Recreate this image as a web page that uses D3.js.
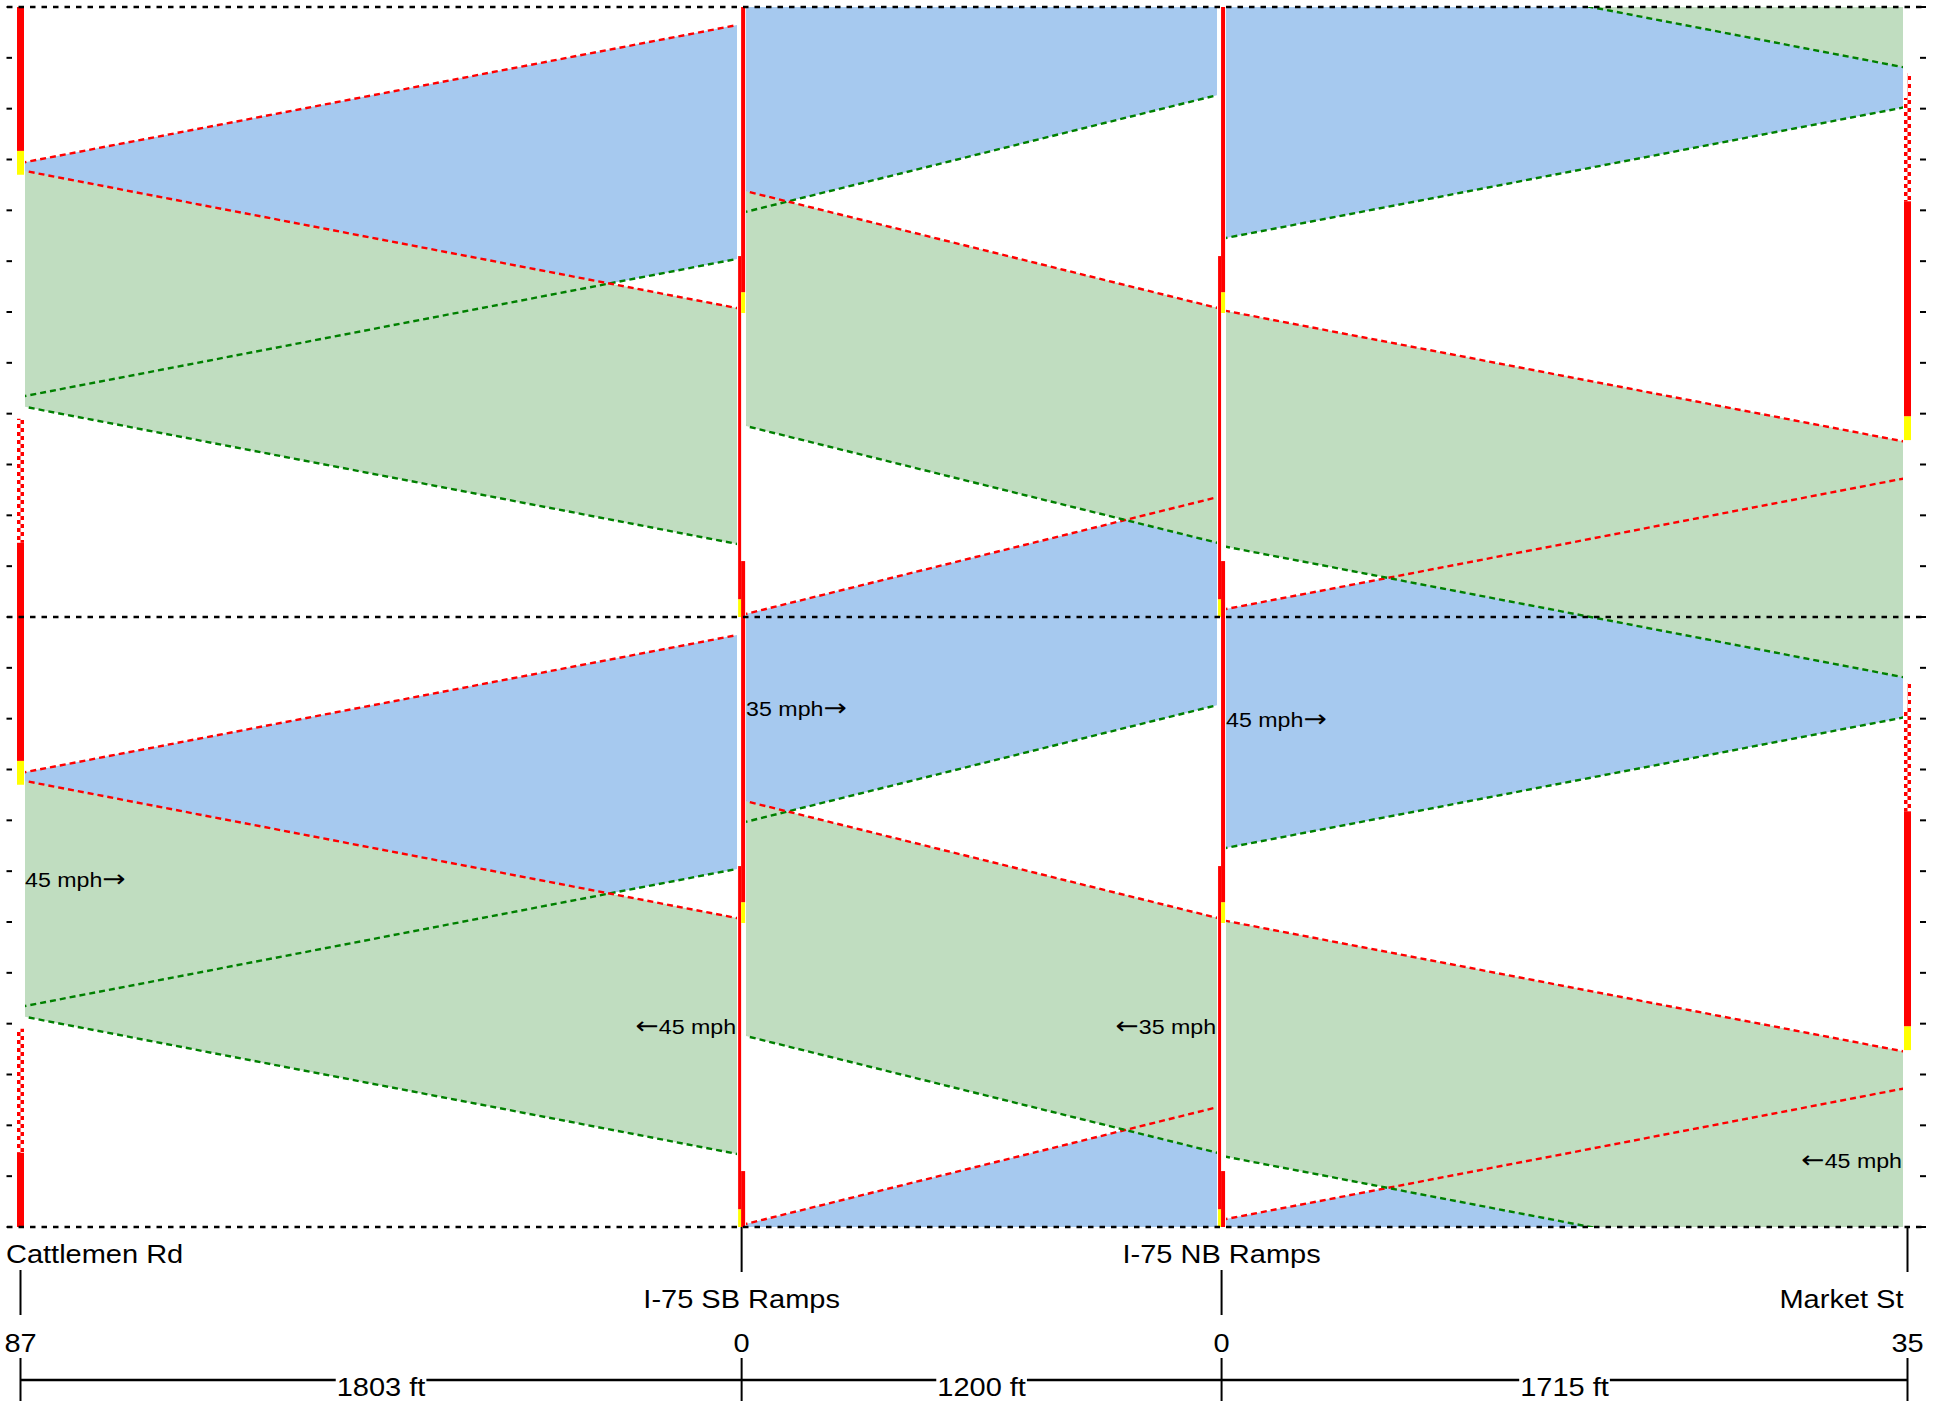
<!DOCTYPE html>
<html><head><meta charset="utf-8">
<script src="https://cdn.jsdelivr.net/npm/d3@7"></script>
<style>
body{margin:0;background:#fff}
text{font-family:"Liberation Sans",Arial,Helvetica,sans-serif;fill:#000}
tspan.arr{font-family:"DejaVu Sans",sans-serif}
</style>
</head><body>
<svg id="chart" width="1952" height="1401"></svg>
<script>
// ---------------- DATA ----------------
const intersectionNames = ["Cattlemen Rd", "I-75 SB Ramps", "I-75 NB Ramps", "Market St"];
const intersectionOffsets = [87, 0, 0, 35];
const linkLengths = [1803, 1200, 1715];          // ft
const ebSpeeds = [45, 35, 45];                   // mph, eastbound per link
const wbSpeeds = [45, 35, 45];                   // mph, westbound per link
const cycleLength = 120;                         // s
const timeDomain = [0, 240];                     // s
const timeTicks = [0,10,20,30,40,50,60,70,80,90,100,110,120,130,140,150,160,170,180,190,200,210,220,230,240];
const cycleLines = [0, 120, 240];

// Through bands (s) at the upstream intersection of each link
const ebBandStart = [43.3, 79.5, 74.4];
const ebBandEnd   = [89.3, 120.4, 121.4];
const wbBandStart = [14.2, 14.4, 108.0];
const wbBandEnd   = [60.6, 60.6, 154.4];

// Signal phases [start s, end s, state] (repeat every cycle)
const cattlemenEB = [[14.6, 39.0, "perm"], [39.0, 87.0, "green"], [87.0, 91.7, "yellow"], [91.7, 134.6, "red"]];
const sbRampsEB   = [[71.0, 120.0, "green"], [120.0, 123.5, "yellow"], [123.5, 191.0, "red"]];
const sbRampsWB   = [[11.0, 59.8, "green"], [59.8, 63.9, "yellow"], [63.9, 131.0, "red"]];
const nbRampsEB   = [[71.0, 120.0, "green"], [120.0, 123.5, "yellow"], [123.5, 191.0, "red"]];
const nbRampsWB   = [[11.0, 59.8, "green"], [59.8, 63.9, "yellow"], [63.9, 131.0, "red"]];
const marketWB    = [[107.0, 154.8, "green"], [154.8, 159.5, "yellow"], [159.5, 201.8, "red"], [201.8, 222.1, "perm"], [222.1, 227.0, "permHalf"]];

// ---------------- SETUP ----------------
const svg = d3.select("#chart");
const positions = [0, ...d3.cumsum(linkLengths)];
const totalLen = positions[positions.length - 1];
const x = d3.scaleLinear().domain([0, totalLen]).range([20.5, 1907.5]);
const y = d3.scaleLinear().domain(timeDomain).range([1227, 7]);
const X = positions.map(p => x(p));
const STRETCH = 1.16;
const BLUE = "#A6C9EF", GREEN = "#C0DDC0";

const defs = svg.append("defs");
X.forEach((xc, i) => {
  const p = defs.append("pattern").attr("id", "chk" + i)
    .attr("patternUnits", "userSpaceOnUse").attr("width", 7).attr("height", 8)
    .attr("x", xc - 3.5).attr("y", 0);
  p.append("rect").attr("width", 7).attr("height", 8).attr("fill", "#fff");
  p.append("rect").attr("x", 0).attr("y", 0).attr("width", 3.5).attr("height", 4).attr("fill", "#f00");
  p.append("rect").attr("x", 3.5).attr("y", 4).attr("width", 3.5).attr("height", 4).attr("fill", "#f00");
});
linkLengths.forEach((_, i) => {
  defs.append("clipPath").attr("id", "clip" + i).append("rect")
    .attr("x", X[i] + 4.5).attr("width", X[i + 1] - X[i] - 9)
    .attr("y", y(timeDomain[1])).attr("height", y(timeDomain[0]) - y(timeDomain[1]));
});

const fps = mph => mph * 5280 / 3600;
const cycles = [-2, -1, 0, 1, 2];

// build band geometry
const bands = [];
linkLengths.forEach((len, i) => {
  const ttE = len / fps(ebSpeeds[i]);
  const ttW = len / fps(wbSpeeds[i]);
  cycles.forEach(k => {
    const s = ebBandStart[i] + k * cycleLength, e = ebBandEnd[i] + k * cycleLength;
    bands.push({link: i, dir: "eb", pts: [[X[i], s], [X[i + 1], s + ttE], [X[i + 1], e + ttE], [X[i], e]]});
    const s2 = wbBandStart[i] + k * cycleLength, e2 = wbBandEnd[i] + k * cycleLength;
    bands.push({link: i, dir: "wb", pts: [[X[i + 1], s2], [X[i], s2 + ttW], [X[i], e2 + ttW], [X[i + 1], e2]]});
  });
});

const bandLayer = svg.append("g");
const linkGroups = linkLengths.map((_, i) => bandLayer.append("g").attr("clip-path", `url(#clip${i})`));
const line = d3.line().x(d => d[0]).y(d => y(d[1]));

["eb", "wb"].forEach(dir => {
  bands.filter(b => b.dir === dir).forEach(b => {
    linkGroups[b.link].append("path")
      .attr("d", line(b.pts) + "Z")
      .attr("fill", dir === "eb" ? BLUE : GREEN);
  });
});
bands.forEach(b => {
  const g = linkGroups[b.link];
  g.append("path").attr("d", line([b.pts[0], b.pts[1]]))
    .attr("stroke", "#008000").attr("stroke-width", 2.4).attr("stroke-dasharray", "6,4").attr("fill", "none");
  g.append("path").attr("d", line([b.pts[3], b.pts[2]]))
    .attr("stroke", "#FF0000").attr("stroke-width", 2.4).attr("stroke-dasharray", "6,4").attr("fill", "none");
});

// ---------------- SIGNAL BARS ----------------
const signals = [
  {i: 0, x0: -3.5, w: 7, phases: cattlemenEB},
  {i: 1, x0: -3.5, w: 3, phases: sbRampsEB},
  {i: 1, x0: -0.5, w: 4, phases: sbRampsWB},
  {i: 2, x0: -3.5, w: 3, phases: nbRampsEB},
  {i: 2, x0: -0.5, w: 4, phases: nbRampsWB},
  {i: 3, x0: -3.5, w: 7, phases: marketWB}
];
const sigLayer = svg.append("g");
signals.forEach(sg => {
  sg.phases.forEach(([ps, pe, state]) => {
    if (state === "green") return;
    d3.range(-3, 4).forEach(k => {
      const s = Math.max(timeDomain[0], ps + k * cycleLength);
      const e = Math.min(timeDomain[1], pe + k * cycleLength);
      if (e <= s) return;
      let xx = X[sg.i] + sg.x0, ww = sg.w;
      let fill = state === "red" ? "#FF0000" : state === "yellow" ? "#FFFF00" : `url(#chk${sg.i})`;
      if (state === "permHalf") { xx = X[sg.i]; ww = sg.w / 2; }
      sigLayer.append("rect").attr("x", xx).attr("width", ww)
        .attr("y", y(e)).attr("height", y(s) - y(e)).attr("fill", fill);
    });
  });
});

// ---------------- CYCLE LINES & TICKS ----------------
const axisLayer = svg.append("g");
cycleLines.forEach(t => {
  axisLayer.append("line").attr("x1", 7).attr("x2", 1926).attr("y1", y(t)).attr("y2", y(t))
    .attr("stroke", "#000").attr("stroke-width", 2.3).attr("stroke-dasharray", "5.5,6");
});
timeTicks.forEach(t => {
  axisLayer.append("line").attr("x1", 6.5).attr("x2", 12).attr("y1", y(t)).attr("y2", y(t)).attr("stroke", "#000").attr("stroke-width", 2);
  axisLayer.append("line").attr("x1", 1920).attr("x2", 1926).attr("y1", y(t)).attr("y2", y(t)).attr("stroke", "#000").attr("stroke-width", 2);
});

// ---------------- TEXT ----------------
function sText(xx, yy, str, anchor, size) {
  return svg.append("text")
    .attr("transform", `translate(${xx},${yy}) scale(${STRETCH},1)`)
    .attr("text-anchor", anchor).style("font-size", size + "px").text(str);
}
function speedText(xx, yy, speed, anchor) {
  const t = svg.append("text")
    .attr("transform", `translate(${xx},${yy}) scale(${STRETCH},1)`)
    .attr("text-anchor", anchor).style("font-size", "20px");
  if (anchor === "end") {
    t.append("tspan").attr("class", "arr").style("font-size", "24px").text("\u2190");
    t.append("tspan").text(speed + " mph");
  } else {
    t.append("tspan").text(speed + " mph");
    t.append("tspan").attr("class", "arr").style("font-size", "24px").text("\u2192");
  }
}

// speed labels at band middle
linkLengths.forEach((_, i) => {
  const midE = ((ebBandStart[i] + ebBandEnd[i]) / 2) % cycleLength;
  speedText(X[i] + 4.5, y(midE) - 2.5, ebSpeeds[i], "start");
  const midW = ((wbBandStart[i] + wbBandEnd[i]) / 2) % cycleLength;
  speedText(X[i + 1] - 5.5, y(midW) - 2.5, wbSpeeds[i], "end");
});

// intersection names, ticks and offsets
const rowBase = [1263, 1308];
intersectionNames.forEach((name, i) => {
  const row = i % 2;
  const anchor = i === 0 ? "start" : i === intersectionNames.length - 1 ? "end" : "middle";
  const tx = i === 0 ? 6 : i === intersectionNames.length - 1 ? X[i] - 4 : X[i];
  sText(tx, rowBase[row], name, anchor, 25);
  const [ty1, ty2] = row === 0 ? [1270, 1315] : [1227, 1272];
  svg.append("line").attr("x1", X[i]).attr("x2", X[i]).attr("y1", ty1).attr("y2", ty2)
    .attr("stroke", "#000").attr("stroke-width", 2);
  sText(X[i], 1352, String(intersectionOffsets[i]), "middle", 25);
  svg.append("line").attr("x1", X[i]).attr("x2", X[i]).attr("y1", 1358).attr("y2", 1401)
    .attr("stroke", "#000").attr("stroke-width", 2);
});

// distance dimension line
linkLengths.forEach((len, i) => {
  const cx = (X[i] + X[i + 1]) / 2;
  const t = sText(cx, 1396, len + " ft", "middle", 25);
  const w = t.node().getComputedTextLength() * STRETCH;
  const gapL = cx - w / 2 - 1, gapR = cx + w / 2 + 1;
  svg.append("line").attr("x1", X[i]).attr("x2", gapL).attr("y1", 1380).attr("y2", 1380).attr("stroke", "#000").attr("stroke-width", 2.5);
  svg.append("line").attr("x1", gapR).attr("x2", X[i + 1]).attr("y1", 1380).attr("y2", 1380).attr("stroke", "#000").attr("stroke-width", 2.5);
});
</script>
</body></html>
